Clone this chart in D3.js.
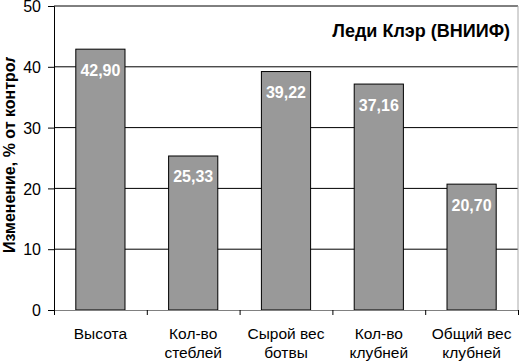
<!DOCTYPE html>
<html><head><meta charset="utf-8">
<script src="https://cdn.jsdelivr.net/npm/d3@7"></script>
<style>body{margin:0;background:#fff}svg{display:block}text{font-family:"Liberation Sans",Arial,sans-serif}</style>
</head><body><svg id="c" width="520" height="362"></svg>
<script>
const categories = [["Высота"],["Кол-во","стеблей"],["Сырой вес","ботвы"],["Кол-во","клубней"],["Общий вес","клубней"]];
const values = [42.90, 25.33, 39.22, 37.16, 20.70];
const labels = ["42,90","25,33","39,22","37,16","20,70"];
const yTicks = [0,10,20,30,40,50];
const title = "Леди Клэр (ВНИИФ)";
const yTitle = "Изменение, % от контроля";

const svg = d3.select("#c");
const L=54, R=518, T=6, B=310;
const x = d3.scaleBand().domain(d3.range(values.length)).range([L,R]).paddingInner(0.47).paddingOuter(0.235);
const xb = d3.scaleLinear().domain([0,values.length]).range([L,R]);
const y = d3.scaleLinear().domain([0,50]).range([B,T]);

svg.append("g").selectAll("line").data(yTicks.filter(d=>d>0)).join("line")
  .attr("x1",L).attr("x2",R).attr("y1",d=>y(d)).attr("y2",d=>y(d))
  .attr("stroke","#000").attr("stroke-width",1);
svg.append("line").attr("x1",R).attr("x2",R).attr("y1",T).attr("y2",B).attr("stroke","#aaa");

svg.append("g").selectAll("rect").data(values).join("rect")
  .attr("x",(d,i)=>x(i)).attr("width",x.bandwidth())
  .attr("y",d=>y(d)).attr("height",d=>B-y(d))
  .attr("fill","#999999").attr("stroke","#000").attr("stroke-width",1);

svg.append("g").selectAll("text").data(values).join("text")
  .attr("x",(d,i)=>x(i)+x.bandwidth()/2).attr("y",d=>y(d)+26.5)
  .attr("text-anchor","middle").attr("fill","#fff").attr("font-weight","bold").attr("font-size",16)
  .text((d,i)=>labels[i]);

const ya = d3.axisLeft(y).tickValues(yTicks).tickSize(6).tickPadding(7).tickFormat(d3.format("d"));
const gy = svg.append("g").attr("transform",`translate(${L},0)`).call(ya);
gy.select(".domain").attr("stroke","#000");
gy.selectAll(".tick line").attr("stroke","#000");
gy.selectAll(".tick text").attr("font-size",16).attr("fill","#000").attr("dy","0.36em")
  .attr("font-family","Liberation Sans, Arial, sans-serif");

const xa = d3.axisBottom(xb).tickValues(d3.range(values.length+1)).tickSize(5).tickFormat("");
const gx = svg.append("g").attr("transform",`translate(0,${B})`).call(xa);
gx.select(".domain").attr("stroke","#808080").attr("d",`M${L},0.5H${R}`);
gx.selectAll(".tick line").attr("stroke","#000");

const cl = svg.append("g").selectAll("text").data(categories).join("text")
  .attr("x",(d,i)=>x(i)+x.bandwidth()/2).attr("y",339)
  .attr("text-anchor","middle").attr("font-size",15.5).attr("fill","#000");
cl.selectAll("tspan").data(d=>d).join("tspan")
  .attr("x",function(){return this.parentNode.getAttribute("x");})
  .attr("dy",(d,j)=>j===0?0:19).text(d=>d);

svg.append("text").attr("x",510).attr("y",37).attr("text-anchor","end")
  .attr("font-weight","bold").attr("font-size",18).attr("fill","#000").text(title);

svg.append("clipPath").attr("id","yc").append("rect").attr("x",0).attr("y",57).attr("width",30).attr("height",305);
svg.append("g").attr("clip-path","url(#yc)").append("text")
  .attr("transform","translate(15,253) rotate(-90)").attr("text-anchor","start")
  .attr("font-weight","bold").attr("font-size",16).attr("fill","#000").text(yTitle);
</script></body></html>
